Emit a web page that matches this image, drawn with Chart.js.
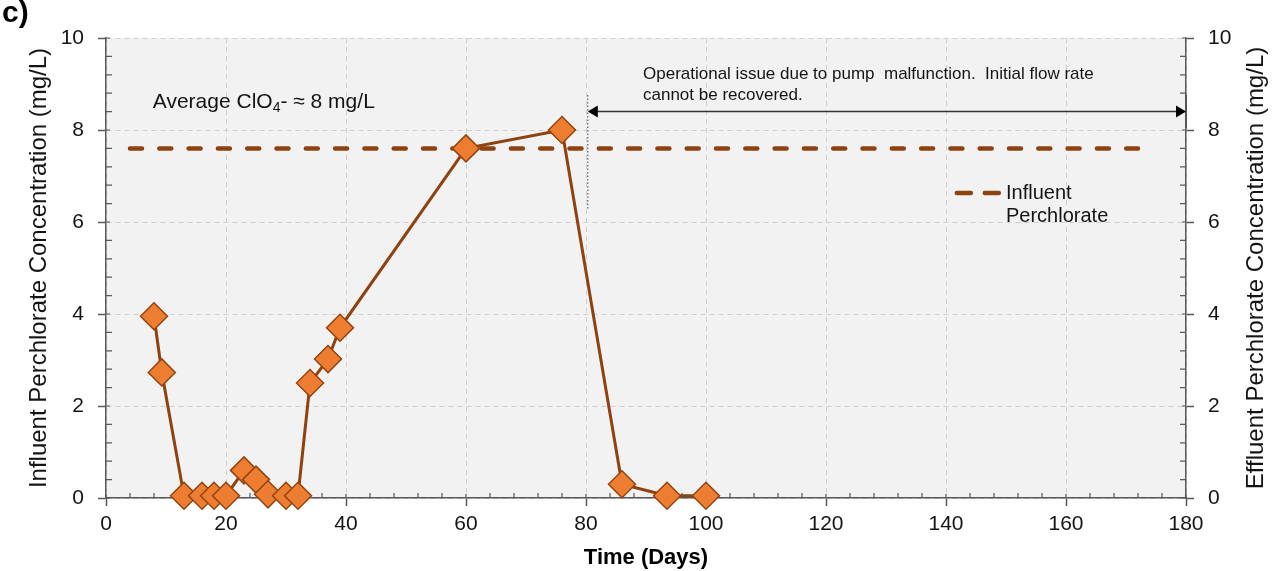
<!DOCTYPE html>
<html>
<head>
<meta charset="utf-8">
<script src="https://cdn.jsdelivr.net/npm/chart.js@4"></script>
<style>
  html, body { margin: 0; padding: 0; background: #fff; }
</style>
</head>
<body>
<canvas id="grafico" width="1272" height="571"></canvas>
<script>
// effluent perchlorate (diamonds)
const dias = [8, 9.3, 13, 16, 18, 20, 23, 25, 27, 30, 32, 34, 37, 39, 60, 76, 86, 93.5, 100];
const efluente = [3.95, 2.73, 0.05, 0.05, 0.05, 0.05, 0.6, 0.4, 0.08, 0.05, 0.05, 2.5, 3.02, 3.7, 7.6, 8.0, 0.3, 0.05, 0.05];
// influent perchlorate (dashed line)
const diasAfluente = [4, 172];
const afluente = [7.6, 7.6];
// ticks
const ticksX = [0, 20, 40, 60, 80, 100, 120, 140, 160, 180];
const ticksY = [0, 2, 4, 6, 8, 10];
// annotation (pump malfunction period)
const inicioFalha = 80.3;
const fimFalha = 180;

const corLinha = "#8f420f";
const corEixo = "#595959";
const corTexto = "#141414";
const familia = "'Liberation Sans', Arial, sans-serif";
const grafico = document.getElementById("grafico").getContext("2d");

function pontos(xs, ys) {
  return xs.map((x, i) => ({ x: x, y: ys[i] }));
}

const extras = {
  id: "extras",
  beforeDraw(chart) {
    const { ctx, chartArea: a } = chart;
    ctx.save();
    ctx.fillStyle = "#f2f2f2";
    ctx.fillRect(a.left, a.top, a.right - a.left, a.bottom - a.top);
    ctx.restore();
  },
  beforeDatasetsDraw(chart) {
    const { ctx, chartArea: a } = chart;
    const sx = chart.scales.x;
    const sy = chart.scales.y;
    ctx.save();
    // minor ticks, inside
    ctx.strokeStyle = corEixo;
    ctx.lineWidth = 1.2;
    ctx.beginPath();
    for (let d = 0; d <= 180; d += 4) {
      const px = sx.getPixelForValue(d);
      const len = d % 20 === 0 ? 4 : 5;
      ctx.moveTo(px, a.bottom);
      ctx.lineTo(px, a.bottom - len);
    }
    for (let i = 0; i <= 25; i++) {
      const py = sy.getPixelForValue(i * 0.4);
      const len = i % 5 === 0 ? 4 : 6;
      ctx.moveTo(a.left, py);
      ctx.lineTo(a.left + len, py);
      ctx.moveTo(a.right, py);
      ctx.lineTo(a.right - len, py);
    }
    ctx.stroke();

    // dotted vertical marker
    const xi = sx.getPixelForValue(inicioFalha);
    const xf = sx.getPixelForValue(fimFalha);
    ctx.strokeStyle = "#444";
    ctx.lineWidth = 1;
    ctx.setLineDash([1.5, 2]);
    ctx.beginPath();
    ctx.moveTo(xi, sy.getPixelForValue(8.76));
    ctx.lineTo(xi, sy.getPixelForValue(6.26));
    ctx.stroke();
    ctx.setLineDash([]);

    // right end bar
    ctx.strokeStyle = "#555";
    ctx.lineWidth = 2;
    ctx.beginPath();
    ctx.moveTo(xf, sy.getPixelForValue(8.76));
    ctx.lineTo(xf, sy.getPixelForValue(8.04));
    ctx.stroke();

    // double arrow
    const ya = sy.getPixelForValue(8.4);
    ctx.strokeStyle = "#333";
    ctx.lineWidth = 1.5;
    ctx.beginPath();
    ctx.moveTo(xi + 6, ya);
    ctx.lineTo(xf - 6, ya);
    ctx.stroke();
    ctx.fillStyle = "#000";
    ctx.beginPath();
    ctx.moveTo(xi, ya);
    ctx.lineTo(xi + 10, ya - 6);
    ctx.lineTo(xi + 10, ya + 6);
    ctx.closePath();
    ctx.moveTo(xf, ya);
    ctx.lineTo(xf - 10, ya - 6);
    ctx.lineTo(xf - 10, ya + 6);
    ctx.closePath();
    ctx.fill();

    // texts
    ctx.fillStyle = corTexto;
    ctx.textBaseline = "middle";
    ctx.textAlign = "left";
    ctx.font = "17px " + familia;
    const xt = sx.getPixelForValue(89.5);
    ctx.fillText("Operational issue due to pump  malfunction.  Initial flow rate", xt, sy.getPixelForValue(9.2));
    ctx.fillText("cannot be recovered.", xt, sy.getPixelForValue(8.76));

    ctx.font = "21px " + familia;
    let xm = sx.getPixelForValue(7.8);
    const ym = sy.getPixelForValue(8.6);
    const parte1 = "Average ClO";
    ctx.fillText(parte1, xm, ym);
    xm += ctx.measureText(parte1).width;
    ctx.font = "14px " + familia;
    ctx.fillText("4", xm, ym + 6);
    xm += ctx.measureText("4").width;
    ctx.font = "21px " + familia;
    ctx.fillText("- \u2248 8 mg/L", xm, ym);

    // legend
    const yl = sy.getPixelForValue(6.63);
    ctx.strokeStyle = corLinha;
    ctx.lineWidth = 4.5;
    ctx.lineCap = "round";
    ctx.setLineDash([14, 14]);
    ctx.beginPath();
    ctx.moveTo(sx.getPixelForValue(141.8), yl);
    ctx.lineTo(sx.getPixelForValue(149), yl);
    ctx.stroke();
    ctx.setLineDash([]);
    ctx.font = "20px " + familia;
    ctx.fillText("Influent", sx.getPixelForValue(150), yl);
    ctx.fillText("Perchlorate", sx.getPixelForValue(150), sy.getPixelForValue(6.12));

    // right axis title, reading upwards like the left one
    ctx.save();
    ctx.translate(1256, (a.top + a.bottom) / 2);
    ctx.rotate(-Math.PI / 2);
    ctx.textAlign = "center";
    ctx.font = "24px " + familia;
    ctx.fillText("Effluent Perchlorate Concentration (mg/L)", 0, 0);
    ctx.restore();

    // panel letter
    ctx.font = "bold 30px " + familia;
    ctx.textBaseline = "top";
    ctx.fillStyle = "#000";
    ctx.fillText("c)", 2, -1);
    ctx.restore();
  },
};

const fonteTick = { family: familia, size: 21 };
const fonteTitulo = { family: familia, size: 24 };

const meuGrafico = new Chart(grafico, {
  type: "scatter",
  data: {
    datasets: [
      {
        label: "Effluent Perchlorate",
        data: pontos(dias, efluente),
        showLine: true,
        borderColor: corLinha,
        borderWidth: 3,
        pointStyle: "rectRot",
        pointRadius: 13.5,
        pointHoverRadius: 13.5,
        pointBackgroundColor: "#ed7d31",
        pointBorderColor: "#94440f",
        pointBorderWidth: 1.5,
        clip: false,
        yAxisID: "y",
      },
      {
        label: "Influent Perchlorate",
        data: pontos(diasAfluente, afluente),
        showLine: true,
        borderColor: corLinha,
        borderWidth: 4.5,
        borderDash: [12, 17.3],
        borderCapStyle: "round",
        pointRadius: 0,
        yAxisID: "y",
      },
    ],
  },
  options: {
    responsive: false,
    animation: false,
    events: [],
    layout: { padding: { top: 38, left: 0, right: 0, bottom: 0 } },
    plugins: {
      legend: { display: false },
      tooltip: { enabled: false },
    },
    scales: {
      x: {
        type: "linear",
        min: 0,
        max: 180,
        afterBuildTicks: (s) => { s.ticks = ticksX.map((v) => ({ value: v })); },
        afterFit: (s) => { s.height = 73; },
        ticks: { font: fonteTick, color: corTexto, padding: 6, maxRotation: 0 },
        grid: { color: "#d0d0d0", lineWidth: 1, tickLength: 8, tickColor: corEixo, tickWidth: 1.5 },
        border: { color: corEixo, width: 1.5, dash: [5, 4] },
        title: {
          display: true,
          text: "Time (Days)",
          font: { family: familia, size: 22, weight: "bold" },
          color: "#000",
          padding: { top: 0, bottom: 0 },
        },
      },
      y: {
        position: "left",
        min: 0,
        max: 10,
        afterBuildTicks: (s) => { s.ticks = ticksY.map((v) => ({ value: v })); },
        afterFit: (s) => { s.width = 106; },
        ticks: { font: fonteTick, color: corTexto, padding: 14 },
        grid: { color: "#d0d0d0", lineWidth: 1, tickLength: 8, tickColor: corEixo, tickWidth: 1.5 },
        border: { color: corEixo, width: 1.5, dash: [5, 4] },
        title: {
          display: true,
          text: "Influent Perchlorate Concentration (mg/L)",
          font: fonteTitulo,
          color: corTexto,
          padding: { top: 25, bottom: 0 },
        },
      },
      y2: {
        position: "right",
        min: 0,
        max: 10,
        afterBuildTicks: (s) => { s.ticks = ticksY.map((v) => ({ value: v })); },
        afterFit: (s) => { s.width = 86; },
        ticks: { font: fonteTick, color: corTexto, padding: 14 },
        grid: { drawOnChartArea: false, tickLength: 8, tickColor: corEixo, tickWidth: 1.5 },
        border: { color: corEixo, width: 1.5 },
        title: { display: false },
      },
    },
  },
  plugins: [extras],
});
</script>
</body>
</html>
